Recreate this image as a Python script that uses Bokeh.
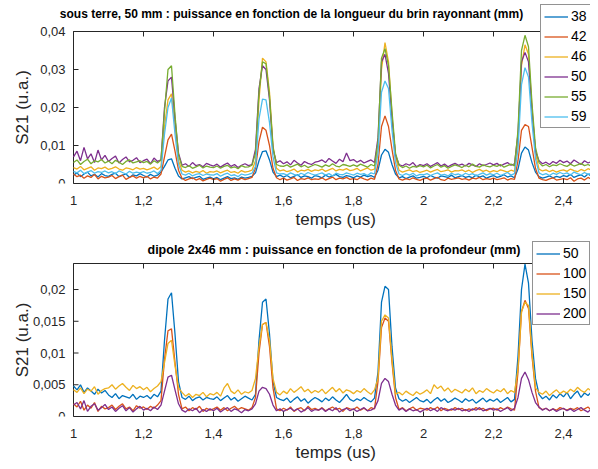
import math
from bokeh.plotting import figure
from bokeh.models import (FixedTicker, CustomJSTickFormatter, Legend,
                          LegendItem, Range1d, Label, Title)
from bokeh.core.properties import value
from bokeh.layouts import column
from bokeh.embed import file_html
from bokeh.resources import INLINE

# time axis (us), sampling 0.01 us
time_us = [round(1.0 + 0.01 * i, 2) for i in range(151)]
unit = 1e-4  # values below are in units of 1e-4

# ---------- top: sous terre, 50 mm, longueur du brin (mm) ----------
top_labels = ["38", "42", "46", "50", "55", "59"]
top_38 = [22,28,18,25,30,20,24,17,26,21, 19,24,27,18,22,25,16,23,20,26,
          21,17,24,19,22,30,45,62,65,40, 20,12,15,18,13,16,19,11,14,17,
          12,16,10,14,18,13,15,11,17,14, 16,19,28,60,84,86,62,30,18,22,
          17,21,15,19,23,16,20,18,14,21, 19,15,22,17,20,24,18,16,21,19,
          15,20,17,22,18,21,16,35,75,90, 82,50,25,15,18,13,17,20,14,16,
          19,15,21,17,14,20,18,16,22,15, 18,21,16,19,15,22,17,20,14,18,
          21,16,19,23,17,20,15,38,80,96, 88,55,30,18,14,17,20,15,19,16,
          21,18,24,16,20,23,17,25,19,22, 20]
top_42 = [25,18,22,14,20,16,24,12,19,15, 17,21,13,18,22,11,16,20,14,19,
          15,19,12,17,14,25,70,115,130,85, 35,14,8,12,15,9,13,7,11,14,
          10,13,6,11,15,8,12,9,14,10, 13,16,40,110,148,140,100,40,15,10,
          14,9,12,16,8,13,11,15,10,12, 11,15,9,13,17,10,14,12,16,11,
          13,10,16,12,9,14,11,50,150,178, 150,90,35,12,9,13,10,15,11,8,
          12,14,9,13,16,10,8,14,11,13, 15,11,13,9,14,12,16,10,13,11,
          14,10,12,15,9,13,11,60,140,155, 150,95,40,14,10,8,12,15,9,11,
          13,10,15,6,12,14,9,16,11,13, 12]
top_46 = [42,38,45,36,40,44,35,41,39,43, 37,40,44,38,35,41,39,36,42,38,
          40,36,39,43,37,45,150,220,236,150, 60,35,30,33,28,32,29,34,27,31,
          30,33,28,32,35,29,31,27,34,30, 32,35,60,220,330,320,240,100,40,33,
          36,31,34,38,30,35,33,37,32,36, 34,38,32,36,40,33,37,35,39,34,
          36,40,33,37,41,35,38,90,300,371, 320,180,70,35,30,33,36,31,34,29,
          32,35,30,34,37,31,33,36,30,34, 33,36,31,35,29,34,37,32,35,30,
          34,31,36,33,30,35,32,110,310,365, 340,200,80,38,33,36,31,35,30,34,
          36,32,38,34,31,37,33,39,35,32, 35]
top_50 = [70,85,60,95,65,78,55,88,62,74, 58,66,72,54,63,70,57,61,68,55,
          60,64,52,67,58,62,200,270,280,170, 80,48,52,45,55,47,50,44,53,49,
          46,51,43,49,54,45,50,42,48,52, 47,50,90,250,310,300,220,90,55,60,
          52,57,49,61,54,48,58,53,50,56, 58,62,55,66,59,53,64,57,80,60,
          63,56,61,54,58,62,55,120,320,340, 290,170,75,50,46,52,48,55,44,50,
          47,52,45,50,55,46,51,44,49,53, 48,51,46,53,49,45,52,47,50,54,
          49,53,46,51,55,48,52,130,320,345, 320,190,85,60,52,56,50,58,53,61,
          55,59,52,62,56,50,60,54,58,57, 55]
top_55 = [55,62,50,58,64,52,60,57,63,54, 59,52,61,56,50,58,62,54,57,60,
          55,58,51,60,54,62,190,300,310,180, 75,45,42,47,40,44,48,41,46,43,
          42,46,40,45,48,41,44,39,47,43, 44,48,80,240,320,315,230,95,50,46,
          45,49,43,47,51,44,48,42,46,50, 47,43,49,45,52,46,44,50,48,45,
          49,45,51,47,43,50,46,110,330,355, 310,190,80,48,42,46,40,45,43,47,
          44,48,41,46,50,43,47,40,45,49, 46,42,48,44,51,45,43,49,46,44,
          48,45,50,43,47,51,46,140,350,390, 360,210,95,55,46,50,44,49,47,52,
          48,45,51,46,49,53,47,50,45,52, 48]
top_59 = [32,28,35,26,30,34,27,31,29,33, 28,31,26,33,29,25,32,27,30,28,
          31,27,29,33,26,35,130,200,225,130, 50,25,22,27,20,24,26,21,25,23,
          22,26,19,24,27,21,23,18,25,22, 24,27,45,170,222,220,160,70,28,25,
          26,22,28,24,21,27,23,29,25,22, 25,28,22,26,20,27,24,23,28,25,
          22,27,24,26,21,28,25,80,240,270, 250,140,55,25,21,26,22,27,20,24,
          23,26,21,25,28,22,24,20,27,23, 25,21,27,23,26,20,24,28,22,26,
          23,27,21,25,29,22,26,90,260,305, 280,160,65,28,23,26,21,27,24,29,
          25,28,22,30,26,23,29,24,27,25, 26]

# ---------- bottom: dipole 2x46 mm, profondeur (mm) ----------
bot_labels = ["50", "100", "150", "200"]
bot_50 = [48,42,50,38,45,40,35,43,37,41, 34,30,36,28,33,31,29,35,27,32,
          30,33,28,35,31,40,120,185,195,130, 55,30,27,32,25,29,31,26,30,28,
          27,31,25,29,33,26,30,24,28,32, 29,26,35,120,180,185,130,55,30,27,
          25,29,22,27,31,24,28,21,26,30, 27,23,29,25,31,26,22,28,35,27,
          24,28,25,30,26,23,29,70,180,205, 200,110,45,28,24,27,22,26,30,25,
          23,27,21,26,30,24,28,22,25,29, 26,22,28,24,27,21,25,29,23,27,
          24,28,22,26,30,23,27,95,200,240, 210,120,60,35,28,32,26,34,29,36,
          31,38,28,35,40,30,37,33,39,42, 36]
bot_100 = [20,15,24,10,18,13,22,8,16,12, 14,18,11,16,20,12,15,9,17,13,
           15,11,16,13,18,25,90,135,138,85, 35,12,15,9,14,11,16,8,13,10,
           12,15,10,14,9,13,16,11,14,12, 10,14,30,100,145,148,110,45,12,9,
           13,10,15,8,12,14,9,16,11,13, 10,14,9,12,15,11,13,8,14,12,
           11,15,10,13,9,14,12,55,140,155, 150,85,30,11,14,9,12,15,10,13,
           12,10,14,11,15,9,13,11,10,14, 11,13,9,12,10,14,11,13,9,12,
           13,10,14,11,15,12,10,70,165,183, 170,95,40,14,11,13,9,12,10,14,
           12,10,13,11,14,9,12,15,10,13, 11]
bot_150 = [42,38,45,36,43,40,47,35,41,44, 45,50,43,48,52,46,41,49,44,47,
           42,46,39,44,48,55,85,115,120,80, 45,38,32,36,30,35,33,38,31,36,
           34,38,32,45,52,40,36,42,35,39, 37,41,60,110,145,148,120,60,38,34,
           40,36,44,38,42,47,39,43,37,41, 38,43,36,41,46,39,44,37,42,40,
           36,41,38,44,39,35,42,60,150,160, 155,90,35,38,34,40,36,33,39,35,
           38,42,36,50,44,48,40,45,38,43, 40,37,43,39,45,36,41,38,44,40,
           37,42,39,44,36,41,38,75,165,180, 175,100,45,38,35,40,33,38,42,36,
           40,37,43,39,46,41,38,44,40,45, 42]
bot_200 = [18,22,12,25,8,16,20,10,14,19, 11,15,8,13,17,9,14,7,12,16,
           10,13,9,15,11,18,40,62,65,42, 20,10,7,12,9,13,6,11,8,12,
           9,13,7,11,14,8,12,10,6,11, 9,12,20,40,46,44,35,18,9,12,
           8,11,13,9,12,7,10,14,8,11, 10,13,8,12,9,14,7,11,13,9,
           12,8,11,14,9,10,13,25,52,60, 55,35,18,10,13,8,12,9,11,7,
           10,13,9,12,8,14,11,9,12,10, 13,9,11,8,12,10,14,9,11,13,
           10,12,8,11,14,9,13,30,60,70, 58,38,22,15,10,13,9,12,8,11,
           13,9,12,8,11,14,10,7,12,9, 11]

x_box = (1.0, 2.5)
x_ticks = [1.0, 1.2, 1.4, 1.6, 1.8, 2.0, 2.2, 2.4]
top_box = 0.04
top_y_ticks = [0, 0.01, 0.02, 0.03, 0.04]
bot_box = 0.0241
bot_y_ticks = [0, 0.005, 0.01, 0.015, 0.02]

colors = ["#0072BD", "#D95319", "#EDB120", "#7E2F8E", "#77AC30", "#4DBEEE"]
FONT = "Liberation Sans"
AX = "#262626"
TICK = 5          # tick length, px
W = 590           # figure width
LEFT = 73         # px from figure left to the box left edge
PX_PER_X = 350.0  # px per 1 us

fmt_code = "return (Math.round(tick*100000)/100000).toString().replace('.', ',');"


def tick_text(t):
    return ("%g" % t).replace(".", ",")


def make_fig(height, frame_h, box_h, bottom, box, yticks, title, title_xy, title_size,
             series, labels, leg_xy):
    # the frame fills the figure above the x axis; box, ticks and labels are drawn in it
    y_max = box * frame_h / box_h
    x0 = x_box[0] - LEFT / PX_PER_X
    x1 = x_box[0] + (W - LEFT) / PX_PER_X
    p = figure(width=W, height=height, output_backend="svg", toolbar_location=None,
               x_range=Range1d(x0, x1), y_range=Range1d(0, y_max),
               min_border_left=0, min_border_right=0, min_border_top=0,
               min_border_bottom=bottom, y_axis_location=None)
    p.title = None
    p.xgrid.visible = False
    p.ygrid.visible = False
    p.outline_line_color = None
    p.background_fill_color = "white"
    p.border_fill_color = "white"

    ax = p.xaxis[0]
    ax.bounds = x_box
    ax.ticker = FixedTicker(ticks=x_ticks)
    ax.formatter = CustomJSTickFormatter(code=fmt_code)
    ax.major_tick_in = TICK
    ax.major_tick_out = 0
    ax.minor_tick_line_color = None
    ax.axis_line_color = AX
    ax.major_tick_line_color = AX
    ax.major_label_text_font = FONT
    ax.major_label_text_color = AX
    ax.major_label_text_font_size = "13px"
    ax.major_label_standoff = 12

    # x axis label, centred under the box (not under the whole frame)
    xlab = Title(text="temps (us)", align="left", offset=LEFT + 262 - 40,
                 text_font=FONT, text_font_size="17px", text_font_style="normal",
                 text_color=AX, standoff=0)
    p.add_layout(xlab, "below")

    ty = TICK * y_max / frame_h
    tx = TICK / PX_PER_X
    # box: left and top edges
    p.segment(x0=[x_box[0]], x1=[x_box[0]], y0=[0], y1=[box], line_color=AX, line_width=1)
    p.segment(x0=[x_box[0]], x1=[x_box[1]], y0=[box], y1=[box], line_color=AX, line_width=1)
    # inward ticks on top and left
    p.segment(x0=x_ticks, x1=x_ticks, y0=[box] * len(x_ticks),
              y1=[box - ty] * len(x_ticks), line_color=AX, line_width=1)
    p.segment(x0=[x_box[0]] * len(yticks), x1=[x_box[0] + tx] * len(yticks),
              y0=yticks, y1=yticks, line_color=AX, line_width=1)
    # y tick labels and y axis label
    p.text(x=[x_box[0]] * len(yticks), y=yticks, text=[tick_text(t) for t in yticks],
           x_offset=-8, text_align="right", text_baseline="middle",
           text_font=value(FONT), text_font_size="13px", text_color=AX)
    p.add_layout(Label(x=21.5, y=box / 2, x_units="screen", y_units="data",
                       text="S21 (u.a.)", angle=math.pi / 2, text_font=FONT,
                       text_font_size="17px", text_color=AX,
                       text_align="center", text_baseline="middle"))

    items = []
    for vals, lab, col in zip(series, labels, colors):
        y = [v * unit for v in vals]
        r = p.line(time_us, y, line_color=col, line_width=1.3)
        items.append(LegendItem(label=lab, renderers=[r]))
    leg = Legend(items=items, location=leg_xy)
    leg.label_text_font = FONT
    leg.label_text_font_size = "14px"
    leg.label_text_color = "#000000"
    leg.glyph_width = 24
    leg.glyph_height = 15
    leg.label_height = 15
    leg.label_width = 0
    leg.label_standoff = 3
    leg.spacing = 4
    leg.padding = 3
    leg.margin = 0
    leg.border_line_color = AX
    leg.border_line_width = 1
    leg.background_fill_color = "white"
    leg.background_fill_alpha = 1.0
    p.add_layout(leg, "center")

    p.add_layout(Label(x=title_xy[0], y=title_xy[1], x_units="screen", y_units="screen",
                       text=title, text_font=FONT, text_font_size=title_size,
                       text_font_style="bold", text_color="#000000",
                       text_align="center", text_baseline="middle"))
    return p


p1 = make_fig(238, 183, 152, 55, top_box, top_y_ticks,
              "sous terre, 50 mm : puissance en fonction de la longueur du brin rayonnant (mm)",
              (291, 169.5), "12px",
              [top_38, top_42, top_46, top_50, top_55, top_59], top_labels, (540, 55))
p2 = make_fig(223, 178, 153, 45, bot_box, bot_y_ticks,
              "dipole 2x46 mm : puissance en fonction de la profondeur (mm)",
              (333.5, 167), "12.5px",
              [bot_50, bot_100, bot_150, bot_200], bot_labels, (532, 91))

layout = column(p1, p2, spacing=0)
open("out.html", "w").write(file_html(layout, INLINE))
